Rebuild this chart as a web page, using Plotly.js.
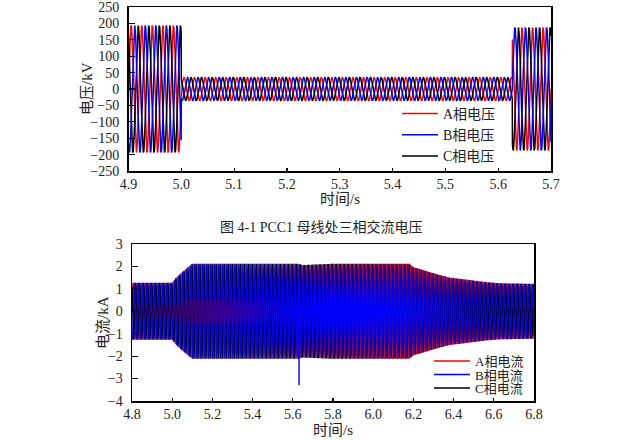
<!DOCTYPE html>
<html>
<head>
<meta charset="utf-8">
<script src="https://cdn.plot.ly/plotly-3.0.1.min.js"></script>
<style>html,body{margin:0;padding:0;background:#fff;}#chart{width:643px;height:440px;}</style>
</head>
<body>
<div id="chart"></div>
<script>
// ---- data ----
const freqHz = 50;
// voltage (top): segment start times and peak amplitudes (kV)
const vSegStart = [4.9, 5.0, 5.627];
const vSegAmp = [193, 35, 187];
const vRange = [4.9, 5.7];
// current (bottom): envelope breakpoints (s) and peak amplitudes (kA)
const iEnvT = [4.8, 5.0, 5.02, 5.05, 5.08, 5.1, 5.627, 5.65, 5.8, 6.18, 6.2, 6.23, 6.28, 6.33, 6.38, 6.43, 6.5, 6.56, 6.63, 6.8];
const iEnvA = [1.27, 1.27, 1.5, 1.75, 1.97, 2.12, 2.12, 2.06, 2.12, 2.12, 1.96, 1.89, 1.75, 1.62, 1.5, 1.45, 1.37, 1.3, 1.25, 1.22];
const iRange = [4.8, 6.8];
// spike of phase B current at the fault-clearing instant
const iSpikeT = 5.631;
const iSpikeB = -3.3;
const phaseNames = ['A', 'B', 'C'];
const phaseShiftDeg = [0, -120, 120];
const phaseColors = ['#ff0000', '#0000ff', '#000000'];
const vLegend = ['A相电压', 'B相电压', 'C相电压'];
const iLegend = ['A相电流', 'B相电流', 'C相电流'];
const yTicksV = [-250, -200, -150, -100, -50, 0, 50, 100, 150, 200, 250];
const yTicksI = [-4, -3, -2, -1, 0, 1, 2, 3];

function vAmpAt(t) {
  let a = vSegAmp[0];
  for (let k = 0; k < vSegStart.length; k++) if (t >= vSegStart[k]) a = vSegAmp[k];
  return a;
}
function iAmpAt(t) {
  for (let k = 0; k < iEnvT.length - 1; k++) {
    if (t >= iEnvT[k] && t <= iEnvT[k + 1]) {
      const f = (t - iEnvT[k]) / (iEnvT[k + 1] - iEnvT[k]);
      return iEnvA[k] + f * (iEnvA[k + 1] - iEnvA[k]);
    }
  }
  return iEnvA[iEnvA.length - 1];
}
function wave(range, spc, ampFn, shiftDeg) {
  const dt = 1 / (freqHz * spc);
  const xs = [], ys = [];
  const n = Math.round((range[1] - range[0]) / dt);
  for (let i = 0; i <= n; i++) {
    const t = range[0] + i * dt;
    xs.push(t);
    ys.push(ampFn(t) * Math.sin(2 * Math.PI * freqHz * (t - range[0]) + shiftDeg * Math.PI / 180));
  }
  return {xs, ys};
}

const FONT = 'Liberation Serif, Times New Roman, Noto Sans CJK SC, serif';
const order = [0, 2, 1]; // draw A, then C, then B on top
const data = [];
order.forEach(p => {
  const w = wave(vRange, 60, vAmpAt, phaseShiftDeg[p]);
  data.push({
    type: 'scatter', mode: 'lines', x: w.xs, y: w.ys, xaxis: 'x', yaxis: 'y',
    name: vLegend[p], legend: 'legend', legendrank: p + 1,
    line: {color: phaseColors[p], width: 1.5}
  });
});
order.forEach(p => {
  const w = wave(iRange, 24, iAmpAt, phaseShiftDeg[p]);
  let xs = w.xs, ys = w.ys;
  if (phaseNames[p] === 'B') {
    const nx = [], ny = [];
    let done = false;
    for (let i = 0; i < xs.length; i++) {
      if (!done && xs[i] > iSpikeT) {
        nx.push(iSpikeT); ny.push(iSpikeB);
        done = true;
      }
      nx.push(xs[i]); ny.push(ys[i]);
    }
    xs = nx; ys = ny;
  }
  data.push({
    type: 'scatter', mode: 'lines', x: xs, y: ys, xaxis: 'x2', yaxis: 'y2',
    name: iLegend[p], legend: ['legend2', 'legend3', 'legend4'][p],
    line: {color: phaseColors[p], width: 1.4}
  });
});

const W = 643, H = 440;
const px = v => v / W, py = v => 1 - v / H;
const axisCommon = {
  showline: true, mirror: true, linecolor: '#000', linewidth: 1.5,
  ticks: 'inside', tickcolor: '#000', tickwidth: 1.2,
  showgrid: false, zeroline: false, ticklabeloverflow: 'allow',
  tickfont: {family: FONT, size: 14, color: '#222'}
};
const legBase = {
  xanchor: 'left', yanchor: 'middle', bgcolor: 'rgba(0,0,0,0)', borderwidth: 0,
  font: {family: FONT, size: 14, color: '#222'}, traceorder: 'normal', itemwidth: 36
};
const ann = (text, x, y, size, angle) => ({
  text, x: px(x), y: py(y), xref: 'paper', yref: 'paper', showarrow: false,
  xanchor: 'center', yanchor: 'middle', textangle: angle || 0,
  font: {family: FONT, size, color: '#222'}
});
const smallLegFont = {family: FONT, size: 13, color: '#222'};
const layout = {
  width: W, height: H, margin: {l: 0, r: 0, t: 0, b: 0},
  paper_bgcolor: '#fff', plot_bgcolor: '#fff',
  showlegend: true,
  xaxis: Object.assign({}, axisCommon, {domain: [px(128.5), px(551)], range: vRange, dtick: 0.1, tick0: 4.9, tickformat: '.1f', ticklen: 3, anchor: 'y'}),
  yaxis: Object.assign({}, axisCommon, {domain: [py(171), py(7)], range: [-250, 250], tickvals: yTicksV, ticklen: 6, ticklabelstandoff: 5, anchor: 'x'}),
  xaxis2: Object.assign({}, axisCommon, {domain: [px(132), px(534)], range: iRange, dtick: 0.2, tick0: 4.8, tickformat: '.1f', ticklen: 3, anchor: 'y2'}),
  yaxis2: Object.assign({}, axisCommon, {domain: [py(401), py(244)], range: [-4, 3], tickvals: yTicksI, ticklen: 6, ticklabelstandoff: 5, anchor: 'x2'}),
  legend: Object.assign({}, legBase, {x: px(397), y: py(135)}),
  legend2: Object.assign({}, legBase, {x: px(429), y: py(361), font: smallLegFont}),
  legend3: Object.assign({}, legBase, {x: px(429), y: py(374.5), font: smallLegFont}),
  legend4: Object.assign({}, legBase, {x: px(429), y: py(388), font: smallLegFont}),
  annotations: [
    ann('电压/kV', 87, 89, 15, -90),
    ann('时间/s', 340, 199, 15),
    ann('图 4-1 PCC1 母线处三相交流电压', 321, 227, 14),
    ann('电流/kA', 103, 323, 15, -90),
    ann('时间/s', 333, 430, 15)
  ]
};
Plotly.newPlot('chart', data, layout, {displayModeBar: false, staticPlot: true});
</script>
</body>
</html>
